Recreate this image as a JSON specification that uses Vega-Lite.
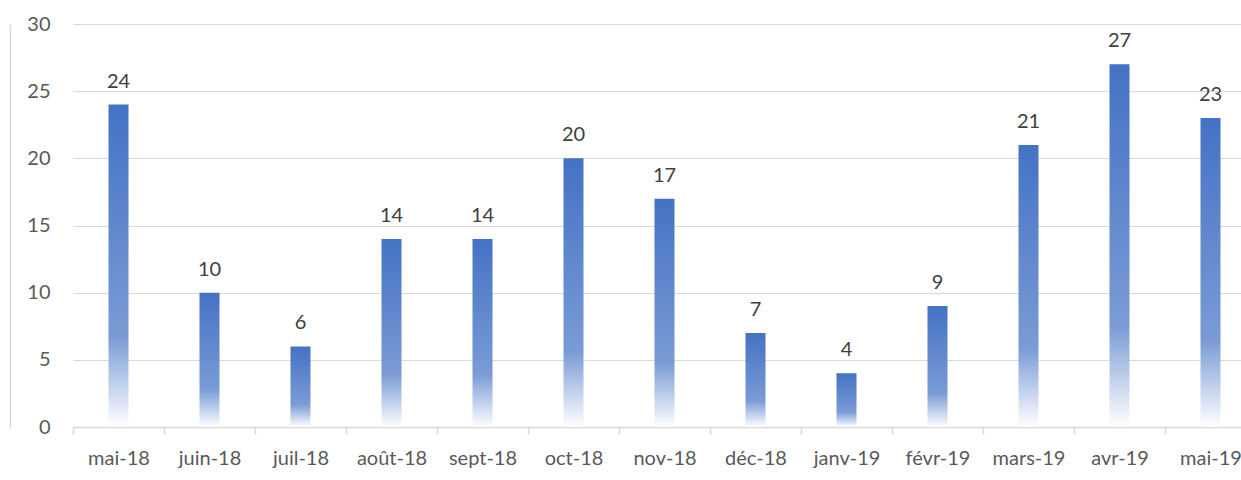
{
  "$schema": "https://vega.github.io/schema/vega-lite/v6.json",
  "autosize": {"type": "none"},
  "width": 1168,
  "height": 403,
  "padding": {"left": 73, "top": 24, "right": 0, "bottom": 53},
  "background": "white",
  "config": {
    "view": {"stroke": null},
    "font": "Lato",
    "axis": {"labelFont": "Lato", "labelColor": "#595959", "labelFontSize": 20}
  },
  "data": {
    "values": [
      {"mois": "mai-18", "valeur": 24},
      {"mois": "juin-18", "valeur": 10},
      {"mois": "juil-18", "valeur": 6},
      {"mois": "août-18", "valeur": 14},
      {"mois": "sept-18", "valeur": 14},
      {"mois": "oct-18", "valeur": 20},
      {"mois": "nov-18", "valeur": 17},
      {"mois": "déc-18", "valeur": 7},
      {"mois": "janv-19", "valeur": 4},
      {"mois": "févr-19", "valeur": 9},
      {"mois": "mars-19", "valeur": 21},
      {"mois": "avr-19", "valeur": 27},
      {"mois": "mai-19", "valeur": 23}
    ]
  },
  "encoding": {
    "x": {
      "field": "mois",
      "type": "nominal",
      "sort": null,
      "scale": {"range": [0, 1183], "paddingInner": 0, "paddingOuter": 0},
      "axis": {
        "title": null,
        "labelAngle": 0,
        "labelPadding": 14,
        "domainColor": "#d9d9d9",
        "domainWidth": 1.5,
        "tickColor": "#d9d9d9",
        "tickWidth": 1.5,
        "tickSize": 7,
        "tickBand": "extent",
        "grid": false
      }
    },
    "y": {
      "field": "valeur",
      "type": "quantitative",
      "scale": {"domain": [0, 30], "nice": false},
      "axis": {
        "title": null,
        "values": [0, 5, 10, 15, 20, 25, 30],
        "grid": true,
        "gridColor": "#d9d9d9",
        "gridWidth": 1,
        "ticks": false,
        "domain": true,
        "domainColor": "#d9d9d9",
        "domainWidth": 1.5,
        "offset": 63,
        "labelPadding": -40
      }
    }
  },
  "layer": [
    {
      "mark": {
        "type": "bar",
        "size": 20,
        "color": {
          "gradient": "linear",
          "x1": 0, "y1": 0, "x2": 0, "y2": 1,
          "stops": [
            {"offset": 0, "color": "#4472C4"},
            {"offset": 0.72, "color": "#7A9BD5"},
            {"offset": 0.84, "color": "#B3C6E8"},
            {"offset": 1, "color": "#FFFFFF"}
          ]
        }
      }
    },
    {
      "mark": {"type": "text", "baseline": "alphabetic", "dy": -17, "fontSize": 20, "color": "#404040"},
      "encoding": {"text": {"field": "valeur", "type": "quantitative"}}
    }
  ]
}
